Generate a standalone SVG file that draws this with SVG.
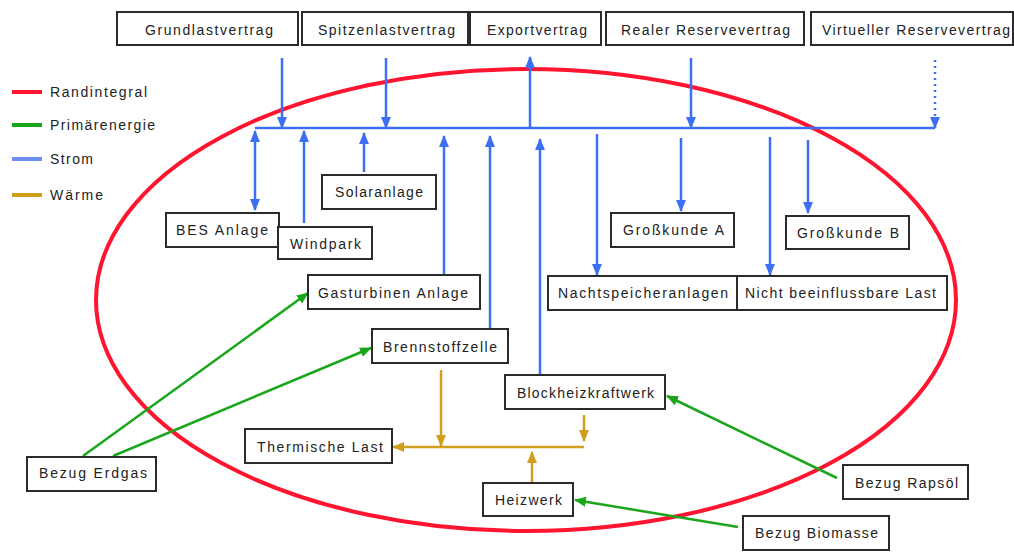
<svg xmlns="http://www.w3.org/2000/svg" width="1014" height="560" viewBox="0 0 1014 560">
<style>
.box{fill:#fff;stroke:#2b2b2b;stroke-width:2}
.t{font-family:"Liberation Sans",Arial,sans-serif;font-size:14px;fill:#222}
.b{stroke:#3d6ff2;stroke-width:2.5;fill:none}
.g{stroke:#1aa61a;stroke-width:2.5;fill:none}
.o{stroke:#d19f1c;stroke-width:2.5;fill:none}
</style>
<defs>
<marker id="ab" markerUnits="userSpaceOnUse" markerWidth="12" markerHeight="10" refX="11" refY="5" orient="auto-start-reverse"><path d="M0,0 L12,5 L0,10 z" fill="#3d6ff2"/></marker>
<marker id="ag" markerUnits="userSpaceOnUse" markerWidth="12" markerHeight="10" refX="11" refY="5" orient="auto"><path d="M0,0 L12,5 L0,10 z" fill="#1aa61a"/></marker>
<marker id="ao" markerUnits="userSpaceOnUse" markerWidth="12" markerHeight="10" refX="11" refY="5" orient="auto"><path d="M0,0 L12,5 L0,10 z" fill="#d19f1c"/></marker>
</defs>
<rect width="1014" height="560" fill="#fff"/>

<g id="boundary">
<ellipse cx="526" cy="300" rx="430" ry="231" fill="none" stroke="#ff1530" stroke-width="4"/>
</g>

<g id="legend">
<line x1="12" y1="92" x2="42" y2="92" stroke="#ff1530" stroke-width="4"/>
<text class="t" x="50" y="97" textLength="97">Randintegral</text>
<line x1="12" y1="125" x2="42" y2="125" stroke="#1aa61a" stroke-width="4"/>
<text class="t" x="50" y="130" textLength="105">Primärenergie</text>
<line x1="12" y1="159" x2="42" y2="159" stroke="#6f8ff0" stroke-width="4"/>
<text class="t" x="50" y="164" textLength="43">Strom</text>
<line x1="12" y1="195" x2="42" y2="195" stroke="#d19f1c" stroke-width="4"/>
<text class="t" x="50" y="200" textLength="53">Wärme</text>
</g>

<g id="connectors">
<line class="b" x1="255" y1="128" x2="935" y2="128"/>
<line class="b" x1="282" y1="58" x2="282" y2="128" marker-end="url(#ab)"/>
<line class="b" x1="386" y1="58" x2="386" y2="128" marker-end="url(#ab)"/>
<line class="b" x1="530" y1="128" x2="530" y2="57" marker-end="url(#ab)"/>
<line class="b" x1="691" y1="58" x2="691" y2="128" marker-end="url(#ab)"/>
<line class="b" x1="935" y1="60" x2="935" y2="128" stroke-dasharray="2,4" marker-end="url(#ab)"/>
<line class="b" x1="255" y1="131" x2="255" y2="210" marker-start="url(#ab)" marker-end="url(#ab)"/>
<line class="b" x1="304" y1="223" x2="304" y2="131" marker-end="url(#ab)"/>
<line class="b" x1="364" y1="172" x2="364" y2="133" marker-end="url(#ab)"/>
<line class="b" x1="444" y1="275" x2="444" y2="136" marker-end="url(#ab)"/>
<line class="b" x1="490" y1="329" x2="490" y2="136" marker-end="url(#ab)"/>
<line class="b" x1="540" y1="375" x2="540" y2="139" marker-end="url(#ab)"/>
<line class="b" x1="597" y1="134" x2="597" y2="275" marker-end="url(#ab)"/>
<line class="b" x1="681" y1="138" x2="681" y2="211" marker-end="url(#ab)"/>
<line class="b" x1="770" y1="137" x2="770" y2="275" marker-end="url(#ab)"/>
<line class="b" x1="808" y1="140" x2="808" y2="213" marker-end="url(#ab)"/>
<line class="o" x1="584" y1="447" x2="393" y2="447" marker-end="url(#ao)"/>
<line class="o" x1="441" y1="370" x2="441" y2="446" marker-end="url(#ao)"/>
<line class="o" x1="584" y1="415" x2="584" y2="441" marker-end="url(#ao)"/>
<line class="o" x1="532" y1="483" x2="532" y2="452" marker-end="url(#ao)"/>
<line class="g" x1="83" y1="456" x2="308" y2="293" marker-end="url(#ag)"/>
<line class="g" x1="113" y1="456" x2="371" y2="348" marker-end="url(#ag)"/>
<line class="g" x1="837" y1="478" x2="667" y2="396" marker-end="url(#ag)"/>
<line class="g" x1="738" y1="527" x2="575" y2="500" marker-end="url(#ag)"/>
</g>

<g id="grundlastvertrag"><rect class="box" x="117" y="12" width="181" height="33"/><text class="t" x="145" y="35" textLength="128">Grundlastvertrag</text></g>
<g id="spitzenlastvertrag"><rect class="box" x="302" y="12" width="166" height="33"/><text class="t" x="318" y="35" textLength="137">Spitzenlastvertrag</text></g>
<g id="exportvertrag"><rect class="box" x="470" y="12" width="131" height="33"/><text class="t" x="487" y="35" textLength="100">Exportvertrag</text></g>
<g id="realer-reservevertrag"><rect class="box" x="606" y="12" width="198" height="33"/><text class="t" x="621" y="35" textLength="169">Realer Reservevertrag</text></g>
<g id="virtueller-reservevertrag"><rect class="box" x="811" y="12" width="202" height="33"/><text class="t" x="822" y="35" textLength="188">Virtueller Reservevertrag</text></g>

<g id="bes-anlage"><rect class="box" x="166" y="213" width="113" height="34"/><text class="t" x="176" y="235" textLength="92">BES Anlage</text></g>
<g id="windpark"><rect class="box" x="278" y="227" width="94" height="32"/><text class="t" x="290" y="249" textLength="71">Windpark</text></g>
<g id="solaranlage"><rect class="box" x="322" y="175" width="114" height="34"/><text class="t" x="335" y="197" textLength="88">Solaranlage</text></g>
<g id="gasturbinen-anlage"><rect class="box" x="308" y="275" width="172" height="34"/><text class="t" x="318" y="298" textLength="150">Gasturbinen Anlage</text></g>
<g id="brennstoffzelle"><rect class="box" x="372" y="329" width="136" height="34"/><text class="t" x="383" y="352" textLength="114">Brennstoffzelle</text></g>
<g id="blockheizkraftwerk"><rect class="box" x="505" y="375" width="160" height="34"/><text class="t" x="517" y="398" textLength="137">Blockheizkraftwerk</text></g>
<g id="thermische-last"><rect class="box" x="245" y="429" width="147" height="34"/><text class="t" x="257" y="452" textLength="126">Thermische Last</text></g>
<g id="heizwerk"><rect class="box" x="483" y="483" width="90" height="33"/><text class="t" x="495" y="505" textLength="67">Heizwerk</text></g>
<g id="grosskunde-a"><rect class="box" x="611" y="213" width="123" height="34"/><text class="t" x="623" y="235" textLength="101">Großkunde A</text></g>
<g id="grosskunde-b"><rect class="box" x="786" y="216" width="123" height="33"/><text class="t" x="797" y="238" textLength="102">Großkunde B</text></g>
<g id="nachtspeicheranlagen"><rect class="box" x="548" y="276" width="189" height="34"/><text class="t" x="558" y="298" textLength="170">Nachtspeicheranlagen</text></g>
<g id="nicht-beeinflussbare-last"><rect class="box" x="737" y="276" width="210" height="34"/><text class="t" x="745" y="298" textLength="191">Nicht beeinflussbare Last</text></g>
<g id="bezug-erdgas"><rect class="box" x="27" y="457" width="129" height="34"/><text class="t" x="39" y="478" textLength="108">Bezug Erdgas</text></g>
<g id="bezug-rapsoel"><rect class="box" x="843" y="465" width="125" height="34"/><text class="t" x="855" y="488" textLength="103">Bezug Rapsöl</text></g>
<g id="bezug-biomasse"><rect class="box" x="743" y="516" width="146" height="34"/><text class="t" x="755" y="538" textLength="123">Bezug Biomasse</text></g>
</svg>
